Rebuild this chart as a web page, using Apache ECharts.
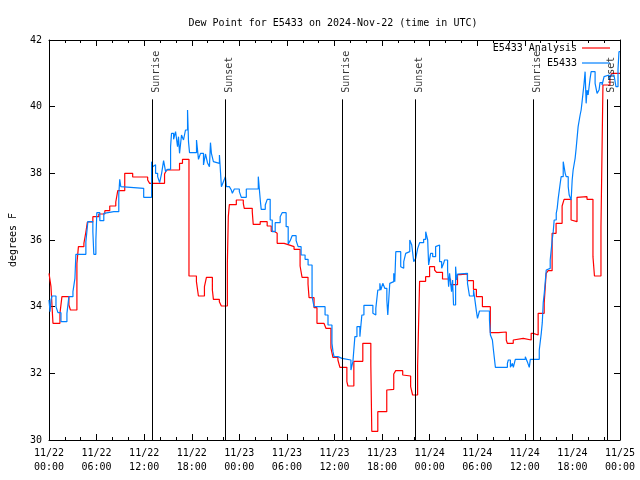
<!DOCTYPE html>
<html>
<head>
<meta charset="utf-8">
<script src="https://cdn.jsdelivr.net/npm/echarts@6/dist/echarts.min.js"></script>
<style>
html,body{margin:0;padding:0;background:#fff;}
#chart{width:640px;height:480px;}
</style>
</head>
<body>
<div id="chart"></div>
<script>
// Hours since 2024-11-22 00:00 UTC
const analysisHours = [0,0.25,0.5,1.38,1.63,2.51,2.70,3.52,3.71,4.40,4.65,4.84,5.53,6.28,7.04,7.66,8.42,8.67,9.55,10.55,12.44,12.69,14.57,14.82,16.46,16.83,17.65,18.59,18.84,19.60,19.85,20.60,20.73,21.48,21.73,22.49,22.61,22.74,23.62,24.50,24.62,25.63,25.75,26.63,27.51,28.02,28.39,28.77,29.65,30.15,30.90,31.66,31.91,32.66,32.79,33.42,33.79,34.67,34.92,35.55,35.80,36.43,36.68,37.56,37.69,38.44,39.57,40.58,40.70,41.46,42.59,42.84,43.47,43.72,44.60,44.72,45.60,45.85,46.48,46.73,47.49,47.99,48.62,48.87,49.62,50.63,51.51,51.88,52.76,53.52,53.89,54.65,55.65,56.66,57.66,57.79,58.54,58.79,59.80,60.80,61.06,61.68,62.44,62.69,62.94,63.44,63.94,64.70,64.95,65.83,65.95,66.58,66.83,67.84,68.59,68.78,69.60,69.85,70.73,70.98,72.0];
const analysisValues = [35.0,34.6,33.5,33.8,34.3,34.05,33.9,35.3,35.8,35.9,36.24,36.54,36.7,36.78,36.88,37.02,37.14,37.48,38.0,37.89,37.8,37.7,37.98,38.1,38.3,38.42,34.92,34.75,34.32,34.6,34.88,34.5,34.22,34.15,34.02,35.3,36.7,37.06,37.2,37.1,36.95,36.85,36.47,36.55,36.42,36.26,36.2,35.9,35.86,35.8,35.72,35.22,34.88,34.68,34.27,33.97,33.5,33.45,33.35,32.76,32.48,32.4,32.18,31.75,31.62,32.36,32.9,32.28,30.26,30.85,31.5,31.52,31.98,32.08,31.95,31.92,31.6,31.35,32.22,34.76,34.9,35.2,35.1,35.03,34.83,34.66,34.96,34.98,34.78,34.52,34.3,34.0,33.22,33.24,33.0,32.9,33.0,33.05,33.0,33.2,33.15,33.8,34.1,35.0,35.08,36.2,36.5,37.02,37.22,36.6,36.55,37.28,37.3,37.22,35.5,34.92,36.4,40.65,40.88,41.0,41.0];

const obsHours = [0,0.13,0.25,0.38,0.88,1.13,1.51,2.26,2.51,3.02,3.27,3.39,4.65,4.90,5.53,5.65,5.91,6.03,6.41,6.91,7.16,8.17,8.42,8.80,8.92,9.05,9.30,11.94,12.94,13.07,13.19,13.44,13.70,13.95,14.20,14.45,14.70,14.95,15.33,15.45,15.71,15.96,16.21,16.33,16.46,16.71,16.96,17.21,17.47,17.59,17.72,18.60,18.85,19.10,19.48,19.73,19.98,20.23,20.36,20.48,20.73,20.86,21.49,21.74,21.99,22.24,22.37,22.74,22.99,23.12,23.37,24.00,24.25,24.88,26.39,26.64,26.76,27.27,27.52,27.89,28.15,28.52,29.15,29.40,29.90,30.16,30.41,30.66,31.16,31.41,31.79,32.29,32.67,33.17,33.42,34.81,35.18,35.68,35.81,35.94,36.44,36.69,36.94,38.07,38.32,38.57,38.83,39.20,39.45,39.71,40.84,40.96,41.21,41.46,41.72,41.84,42.09,42.34,42.60,42.72,42.97,43.10,43.47,43.60,43.73,44.35,44.48,44.73,44.98,45.23,45.49,45.74,45.99,46.24,46.49,46.74,47.24,47.50,47.75,47.87,48.12,48.38,48.75,49.00,49.25,49.51,49.76,49.88,50.26,50.39,50.51,50.76,50.89,51.01,51.27,51.39,51.52,51.77,52.77,53.02,53.53,53.65,53.90,54.03,54.28,55.54,55.66,55.91,56.04,56.29,57.80,57.92,58.18,58.43,58.55,58.80,60.06,60.31,60.56,60.69,61.82,62.07,62.20,62.32,62.45,62.70,62.95,63.20,63.45,63.58,63.70,63.96,64.08,64.21,64.46,64.58,64.84,64.96,65.09,65.21,65.47,65.59,65.84,65.97,66.09,66.34,66.47,66.59,66.72,66.97,67.10,67.22,67.47,67.60,67.73,67.85,67.98,68.23,68.36,68.86,69.11,69.36,69.48,69.74,69.99,70.24,70.62,70.87,71.24,71.49,71.75,71.87,72.0];
const obsValues = [34.2,33.85,34.2,34.32,34.0,33.82,33.55,33.8,34.3,34.45,34.85,35.57,35.95,36.55,36.25,35.57,36.0,36.82,36.58,36.8,36.85,36.9,36.85,37.37,37.82,37.6,37.55,37.28,38.35,38.2,38.26,38.0,37.9,37.72,38.0,38.38,38.05,38.12,38.8,39.2,39.02,39.25,38.8,39.1,38.6,39.15,39.0,39.3,39.9,38.95,38.62,39.0,38.42,38.6,38.25,38.58,38.32,38.2,38.92,38.6,38.35,38.3,38.55,37.6,37.75,37.9,37.6,37.58,37.5,37.4,37.53,37.45,37.28,37.53,37.9,37.2,36.92,37.05,37.22,36.6,36.25,36.52,36.7,36.82,36.4,35.88,35.98,36.13,35.98,35.8,35.55,35.42,35.25,34.3,34.0,33.75,33.45,32.9,32.65,32.5,32.53,32.45,32.4,32.1,32.35,33.1,33.4,33.1,33.75,34.04,33.8,33.75,33.95,34.5,34.7,34.5,34.7,34.55,34.2,33.75,34.7,34.75,35.0,34.75,35.65,35.2,35.15,35.35,35.6,35.65,36.0,35.85,35.35,35.45,35.75,35.92,36.02,36.25,36.0,35.25,35.6,35.5,35.8,35.85,35.35,35.15,35.3,35.4,35.1,34.6,35.0,34.45,34.8,34.05,35.2,34.8,34.98,35.0,34.7,34.32,34.5,34.3,33.85,33.65,33.87,33.6,33.15,33.0,32.7,32.18,32.3,32.4,32.18,32.3,32.18,32.42,32.5,32.35,32.18,32.42,32.7,33.2,33.52,34.12,34.4,35.1,35.15,35.4,36.0,36.25,36.6,36.8,36.95,37.25,37.7,37.9,38.35,38.4,38.0,37.9,37.6,37.35,37.2,37.8,38.1,38.45,38.75,38.8,39.4,39.75,39.9,40.15,40.7,41.05,40.1,40.5,40.35,40.85,41.05,40.7,40.4,40.5,40.72,40.65,40.9,40.95,40.8,40.95,41.0,40.6,41.12,41.65,41.65];

const sunEventHours = [13.0, 22.24, 37.0, 46.24, 61.06, 70.36];
const sunEventNames = ['Sunrise','Sunset','Sunrise','Sunset','Sunrise','Sunset'];
const sunLineTopValue = 40.22;

const xTickLabels = ['11/22\n00:00','11/22\n06:00','11/22\n12:00','11/22\n18:00','11/23\n00:00','11/23\n06:00','11/23\n12:00','11/23\n18:00','11/24\n00:00','11/24\n06:00','11/24\n12:00','11/24\n18:00','11/25\n00:00'];

const FONT = 'DejaVu Sans Mono';
const chart = echarts.init(document.getElementById('chart'), null, {renderer:'canvas'});

function xAxisDef(pos, showLabels){
  return {
    type:'value', min:0, max:72, interval:6, position:pos,
    axisLine:{show:true, onZero:false, lineStyle:{color:'#000', width:1}},
    axisTick:{show:true, inside:true, length:6, lineStyle:{color:'#000', width:1}},
    minorTick:{show:true, splitNumber:3, length:3, lineStyle:{color:'#000', width:1}},
    splitLine:{show:false},
    axisLabel:{show:showLabels, color:'#000', fontFamily:FONT, fontSize:10, lineHeight:14, margin:6,
      formatter:function(v){ return xTickLabels[Math.round(v/6)]; }}
  };
}
function yAxisDef(pos, showLabels){
  const a = {
    type:'value', min:30, max:42, interval:2, position:pos,
    axisLine:{show:true, onZero:false, lineStyle:{color:'#000', width:1}},
    axisTick:{show:true, inside:true, length:6, lineStyle:{color:'#000', width:1}},
    splitLine:{show:false},
    axisLabel:{show:showLabels, color:'#000', fontFamily:FONT, fontSize:10, margin:7}
  };
  if (showLabels){
    a.name = 'degrees F';
    a.nameLocation = 'middle';
    a.nameGap = 31;
    a.nameTextStyle = {color:'#000', fontFamily:FONT, fontSize:10};
  }
  return a;
}

const option = {
  animation:false,
  backgroundColor:'#fff',
  title:{
    text:'Dew Point for E5433 on 2024-Nov-22 (time in UTC)',
    left:328, top:13, textAlign:'center',
    textStyle:{fontFamily:FONT, fontSize:10, fontWeight:'normal', color:'#000'}
  },
  legend:{
    data:['E5433 Analysis','E5433'],
    orient:'vertical', align:'right', right:30, top:43, padding:0, itemGap:5,
    icon:'rect', itemWidth:28, itemHeight:1.2,
    textStyle:{fontFamily:FONT, fontSize:10, color:'#000'}
  },
  grid:{left:47, right:20, top:40, bottom:40, show:false},
  xAxis:[xAxisDef('bottom', true), xAxisDef('top', false)],
  yAxis:[yAxisDef('left', true), yAxisDef('right', false)],
  series:[
    {
      name:'E5433 Analysis', type:'line', step:'end', symbol:'none',
      data: analysisHours.map((h,i)=>[h, analysisValues[i]]),
      lineStyle:{color:'#ff0000', width:1.2}, itemStyle:{color:'#ff0000'}, z:2
    },
    {
      name:'E5433', type:'line', step:'end', symbol:'none',
      data: obsHours.map((h,i)=>[h, obsValues[i]]),
      lineStyle:{color:'#0080ff', width:1.2}, itemStyle:{color:'#0080ff'}, z:3
    },
    {
      name:'sun', type:'scatter', symbolSize:1, z:5,
      itemStyle:{color:'rgba(0,0,0,0)'},
      data: sunEventHours.map((h,i)=>[h, sunLineTopValue, sunEventNames[i]]),
      label:{show:true, position:'top', distance:6, rotate:90, align:'left', verticalAlign:'middle',
        offset:[0,4],
        formatter:function(p){ return p.value[2]; },
        fontFamily:FONT, fontSize:10, color:'#000'},
      markLine:{
        silent:true, symbol:'none', animation:false,
        label:{show:false},
        lineStyle:{color:'#000', width:1, type:'solid'},
        data: sunEventHours.map(h=>[{coord:[h,30]},{coord:[h,sunLineTopValue]}])
      }
    }
  ]
};
chart.setOption(option);
</script>
</body>
</html>
